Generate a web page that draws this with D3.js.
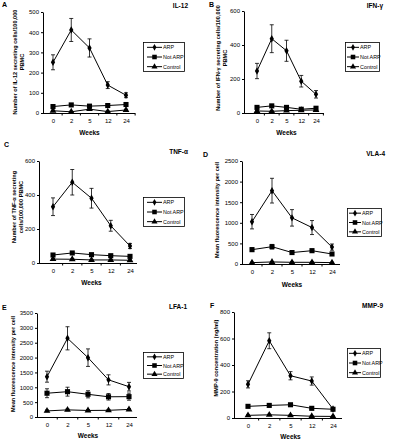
<!DOCTYPE html>
<html><head><meta charset="utf-8">
<script src="https://cdn.jsdelivr.net/npm/d3@7/dist/d3.min.js"></script>
<style>
html,body{margin:0;padding:0;background:#fff;}
svg{display:block;font-family:"Liberation Sans",Arial,sans-serif;}
</style></head>
<body><svg id="c" width="393" height="440"></svg>
<script>
// ---------- data ----------
const weeks = ["0","2","5","12","24"];
const seriesNames = ["ARP","Not ARP","Control"];

const il12Arp = [251,411,322,138,88];
const il12ArpErr = [37,57,45,17,12];
const il12NotArp = [32,40,34,37,42];
const il12NotArpErr = [5,5,5,5,5];
const il12Control = [11,6,19,7,15];
const il12ControlErr = [3,3,3,3,3];

const ifnArp = [247,437,366,187,110];
const ifnArpErr = [45,82,62,34,22];
const ifnNotArp = [33,42,33,22,28];
const ifnNotArpErr = [6,6,6,5,5];
const ifnControl = [12,10,14,16,18];
const ifnControlErr = [3,3,3,3,3];

const tnfArp = [331,475,381,219,100];
const tnfArpErr = [52,75,58,32,15];
const tnfNotArp = [47,59,49,43,39];
const tnfNotArpErr = [5,5,5,5,5];
const tnfControl = [23,22,18,18,16];
const tnfControlErr = [3,3,3,3,3];

const vlaArp = [1027,1780,1120,885,410];
const vlaArpErr = [175,300,200,170,75];
const vlaNotArp = [348,420,278,323,243];
const vlaNotArpErr = [45,55,40,40,35];
const vlaControl = [33,50,41,41,33];
const vlaControlErr = [10,10,10,10,10];

const lfaArp = [1357,2648,1997,1250,1020];
const lfaArpErr = [185,390,295,170,145];
const lfaNotArp = [800,852,764,680,685];
const lfaNotArpErr = [150,150,120,110,120];
const lfaControl = [205,240,220,225,255];
const lfaControlErr = [30,30,30,30,30];

const mmpArp = [254,583,319,279,68];
const mmpArpErr = [27,60,31,31,8];
const mmpNotArp = [88,95,100,73,66];
const mmpNotArpErr = [8,8,8,8,8];
const mmpControl = [20,24,20,13,12];
const mmpControlErr = [4,4,4,4,4];

const tickIL12 = [0,100,200,300,400,500];
const tickIFN = [0,200,400,600];
const tickTNF = [0,200,400,600];
const tickVLA = [0,500,1000,1500,2000,2500];
const tickLFA = [0,500,1000,1500,2000,2500,3000,3500];
const tickMMP = [0,200,400,600,800];

// ---------- layout ----------
const panels = [
 {letter:"A", title:"IL-12", ylab:["Number of IL-12 secreting cells/100,000","PBMC"],
  arp:il12Arp, arpE:il12ArpErr, nar:il12NotArp, narE:il12NotArpErr, ctl:il12Control, ctlE:il12ControlErr, ticks:tickIL12,
  ax:43, y0:113, yTop:12, xF:53, xL:126, xEnd:135, weeksY:135, letterX:2, letterY:7, titleX:188, titleY:8,
  ylX:[15,22], ylY:62, leg:[143,42,41,29]},
 {letter:"B", title:"IFN-γ", ylab:["Number of IFN-γ secreting cells/100,000","PBMC"],
  arp:ifnArp, arpE:ifnArpErr, nar:ifnNotArp, narE:ifnNotArpErr, ctl:ifnControl, ctlE:ifnControlErr, ticks:tickIFN,
  ax:244, y0:113, yTop:11, xF:257, xL:316, xEnd:324, weeksY:135, letterX:209, letterY:7, titleX:383, titleY:8,
  ylX:[218,225], ylY:58, leg:[345,42,34,29]},
 {letter:"C", title:"TNF-α", ylab:["Number of TNF-α secreting","cells/100,000 PBMC"],
  arp:tnfArp, arpE:tnfArpErr, nar:tnfNotArp, narE:tnfNotArpErr, ctl:tnfControl, ctlE:tnfControlErr, ticks:tickTNF,
  ax:39, y0:263, yTop:161, xF:53, xL:130, xEnd:137, weeksY:285, letterX:4, letterY:147, titleX:188, titleY:154,
  ylX:[14,21], ylY:207, leg:[143,197,41,29]},
 {letter:"D", title:"VLA-4", ylab:["Mean fluorescence intensity per cell"],
  arp:vlaArp, arpE:vlaArpErr, nar:vlaNotArp, narE:vlaNotArpErr, ctl:vlaControl, ctlE:vlaControlErr, ticks:tickVLA,
  ax:242, y0:264, yTop:161, xF:252, xL:332, xEnd:340, weeksY:287, letterX:203, letterY:157, titleX:385, titleY:156,
  ylX:[217], ylY:210, leg:[347,208,34,28]},
 {letter:"E", title:"LFA-1", ylab:["Mean fluorescence intensity per cell"],
  arp:lfaArp, arpE:lfaArpErr, nar:lfaNotArp, narE:lfaNotArpErr, ctl:lfaControl, ctlE:lfaControlErr, ticks:tickLFA,
  ax:37, y0:417, yTop:313, xF:47, xL:129, xEnd:137, weeksY:438, letterX:2, letterY:310, titleX:187, titleY:309,
  ylX:[13], ylY:364, leg:[143,352,40,26]},
 {letter:"F", title:"MMP-9", ylab:["MMP-9 concentration (ng/ml)"],
  arp:mmpArp, arpE:mmpArpErr, nar:mmpNotArp, narE:mmpNotArpErr, ctl:mmpControl, ctlE:mmpControlErr, ticks:tickMMP,
  ax:234, y0:418, yTop:312, xF:248, xL:333, xEnd:342, weeksY:439, letterX:210, letterY:308, titleX:383, titleY:308,
  ylX:[216], ylY:358, leg:[347,348,33,29]}
];

const symbols = [d3.symbolDiamond, d3.symbolSquare, d3.symbolTriangle];
const symSizes = [16, 26, 20];

const svg = d3.select("#c");
svg.append("rect").attr("width",393).attr("height",440).attr("fill","#fff");

panels.forEach(p => {
  const g = svg.append("g");
  const yMax = p.ticks[p.ticks.length-1];
  const y = d3.scaleLinear().domain([0,yMax]).range([p.y0,p.yTop]);
  const x = d3.scalePoint().domain(weeks).range([p.xF,p.xL]);

  // y axis
  const ya = g.append("g").attr("transform",`translate(${p.ax},0)`)
    .call(d3.axisLeft(y).tickValues(p.ticks).tickFormat(d3.format("d")).tickSize(2).tickPadding(2).tickSizeOuter(0));
  ya.select(".domain").attr("stroke","#000");
  ya.selectAll("text").attr("font-size",6).attr("fill","#000");
  // x axis
  const xa = g.append("g").attr("transform",`translate(0,${p.y0})`)
    .call(d3.axisBottom(x).tickSize(0).tickPadding(6));
  xa.select(".domain").remove();
  xa.selectAll("text").attr("font-size",6).attr("fill","#000");
  g.append("line").attr("x1",p.ax).attr("x2",p.xEnd).attr("y1",p.y0+0.5).attr("y2",p.y0+0.5)
    .attr("stroke","#000").attr("stroke-width",1);
  const step = x.step();
  weeks.forEach((w,i)=>{
    const tx = x(w)+step/2;
    if (tx <= p.xEnd+1) g.append("line").attr("x1",tx).attr("x2",tx).attr("y1",p.y0).attr("y2",p.y0+2.5).attr("stroke","#000");
  });

  // series
  const sets = [[p.arp,p.arpE],[p.nar,p.narE],[p.ctl,p.ctlE]];
  sets.forEach((s,si)=>{
    const vals = s[0], errs = s[1];
    const line = d3.line().x((d,i)=>x(weeks[i])).y(d=>y(d));
    g.append("path").attr("d",line(vals)).attr("fill","none").attr("stroke","#000").attr("stroke-width",1);
    vals.forEach((v,i)=>{
      const cx = x(weeks[i]);
      const t = y(v+errs[i]), b = y(Math.max(0,v-errs[i]));
      g.append("line").attr("x1",cx).attr("x2",cx).attr("y1",t).attr("y2",b).attr("stroke","#000").attr("stroke-width",0.8);
      [t,b].forEach(yy=>g.append("line").attr("x1",cx-2).attr("x2",cx+2).attr("y1",yy).attr("y2",yy).attr("stroke","#000").attr("stroke-width",0.8));
      g.append("path").attr("d",d3.symbol().type(symbols[si]).size(symSizes[si])())
        .attr("transform",`translate(${cx},${y(v)})`).attr("fill","#000");
    });
  });

  g.append("text").attr("x",(p.xF+p.xL)/2).attr("y",p.weeksY).attr("text-anchor","middle")
    .attr("font-size",6.5).attr("font-weight","bold").text("Weeks");
  g.append("text").attr("x",p.letterX).attr("y",p.letterY).attr("font-size",7).attr("font-weight","bold").text(p.letter);
  g.append("text").attr("x",p.titleX).attr("y",p.titleY).attr("text-anchor","end").attr("font-size",6.5).attr("font-weight","bold").text(p.title);
  p.ylab.forEach((t,i)=>{
    g.append("text").attr("transform",`translate(${p.ylX[i]+2},${p.ylY}) rotate(-90)`)
      .attr("text-anchor","middle").attr("font-size",5.6).attr("font-weight","bold").text(t);
  });
  const [lx,ly,lw,lh] = p.leg;
  const lg = g.append("g");
  lg.append("rect").attr("x",lx+0.5).attr("y",ly+0.5).attr("width",lw).attr("height",lh)
    .attr("fill","#fff").attr("stroke","#000").attr("stroke-width",0.8);
  const wide = lw > 38;
  seriesNames.forEach((n,i)=>{
    const ry = ly + lh*(2*i+1)/6 + 0.5;
    const x1 = lx + (wide?4:2), x2 = lx + (wide?19:14);
    lg.append("line").attr("x1",x1).attr("x2",x2).attr("y1",ry).attr("y2",ry).attr("stroke","#000").attr("stroke-width",1);
    lg.append("path").attr("d",d3.symbol().type(symbols[i]).size(symSizes[i]*0.8)())
      .attr("transform",`translate(${(x1+x2)/2},${ry})`).attr("fill","#000");
    lg.append("text").attr("x",x2+1).attr("y",ry+2).attr("font-size",5.4).text(n);
  });
});
</script></body></html>
